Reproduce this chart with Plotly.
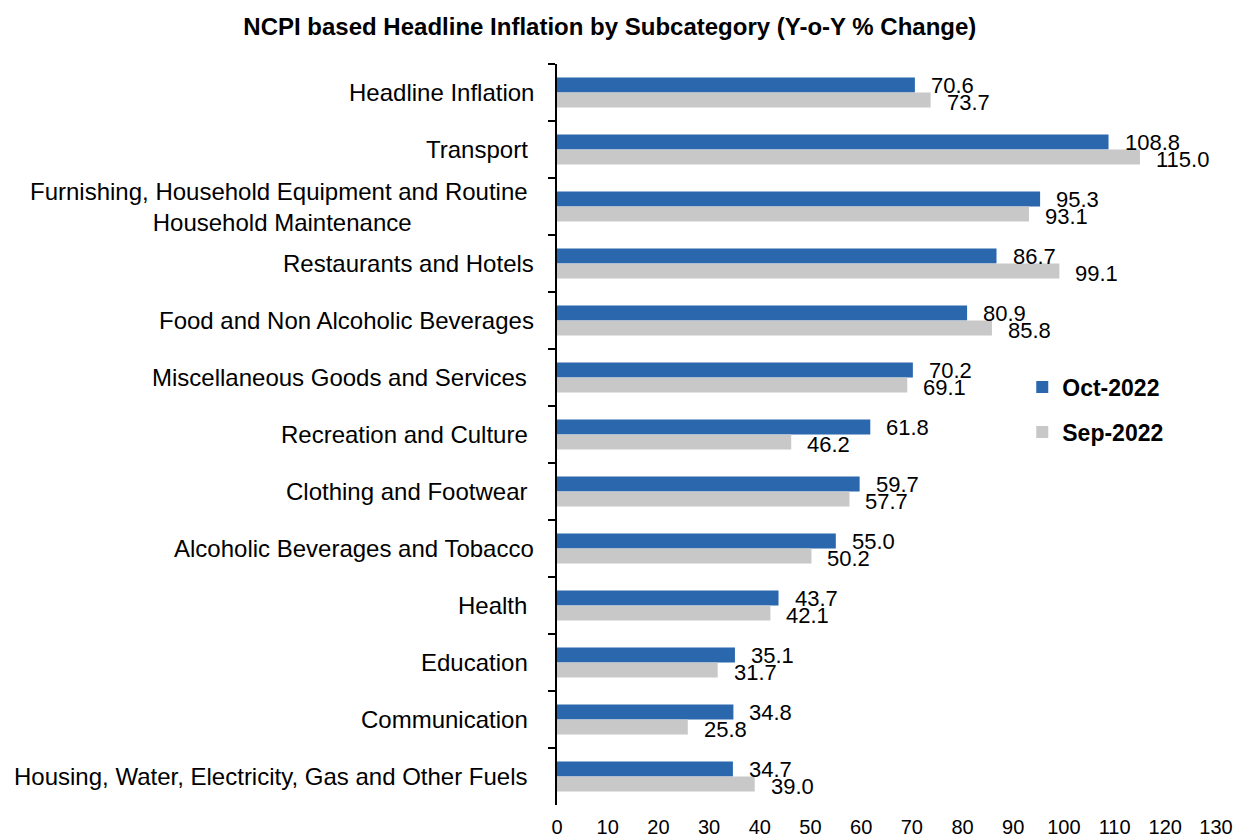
import plotly.graph_objects as go

categories = [
    "Headline Inflation",
    "Transport\u00a0",
    "Furnishing, Household Equipment and Routine\u00a0<br>Household Maintenance",
    "Restaurants and Hotels",
    "Food and Non Alcoholic Beverages",
    "Miscellaneous Goods and Services\u00a0",
    "Recreation and Culture\u00a0",
    "Clothing and Footwear\u00a0",
    "Alcoholic Beverages and Tobacco",
    "Health\u00a0",
    "Education\u00a0",
    "Communication\u00a0",
    "Housing, Water, Electricity, Gas and Other Fuels\u00a0",
]
oct_2022 = [70.6, 108.8, 95.3, 86.7, 80.9, 70.2, 61.8, 59.7, 55.0, 43.7, 35.1, 34.8, 34.7]
sep_2022 = [73.7, 115.0, 93.1, 99.1, 85.8, 69.1, 46.2, 57.7, 50.2, 42.1, 31.7, 25.8, 39.0]
x_ticks = list(range(0, 131, 10))

FONT = "Liberation Sans, Arial, sans-serif"
BLUE = "#2A67AD"
GRAY = "#C8C8C8"

fig = go.Figure()
fig.add_trace(go.Bar(y=categories, x=oct_2022, orientation="h", name="Oct-2022",
                     marker=dict(color=BLUE, line=dict(width=0)), legendgroup="a"))
fig.add_trace(go.Bar(y=categories, x=sep_2022, orientation="h", name="Sep-2022",
                     marker=dict(color=GRAY, line=dict(width=0)), legendgroup="b"))

annotations = []
for c, v in zip(categories, oct_2022):
    annotations.append(dict(x=v, y=c, xref="x", yref="y", text=f"{v:.1f}", showarrow=False,
                            xanchor="left", yanchor="middle", xshift=14, yshift=7,
                            font=dict(family=FONT, size=22, color="black")))
for c, v in zip(categories, sep_2022):
    annotations.append(dict(x=v, y=c, xref="x", yref="y", text=f"{v:.1f}", showarrow=False,
                            xanchor="left", yanchor="middle", xshift=14, yshift=-10,
                            font=dict(family=FONT, size=22, color="black")))
for c in categories:
    annotations.append(dict(x=0, y=c, xref="paper", yref="y", text=c, showarrow=False,
                            xanchor="right", yanchor="middle", xshift=-21, align="center",
                            font=dict(family=FONT, size=24, color="black")))

fig.update_layout(
    width=1237, height=840,
    margin=dict(l=557, r=21, t=64, b=35, autoexpand=False),
    paper_bgcolor="white", plot_bgcolor="white",
    barmode="group", bargap=0.47, bargroupgap=0,
    title=dict(text="<b>NCPI based Headline Inflation by Subcategory (Y-o-Y % Change)</b>",
               x=0.493, xref="container", xanchor="center", y=0.968, yref="container",
               yanchor="middle", font=dict(family=FONT, size=24, color="black")),
    font=dict(family=FONT, color="black"),
    legend=dict(x=0.706, y=0.593, xanchor="left", yanchor="top", bgcolor="rgba(0,0,0,0)",
                font=dict(family=FONT, size=23, color="black", weight="bold"),
                traceorder="grouped", tracegroupgap=12, itemwidth=30),
    annotations=annotations,
)
fig.update_xaxes(range=[0, 130], tickvals=x_ticks, showgrid=False, zeroline=False,
                 showline=False, ticks="", tickfont=dict(family=FONT, size=20, color="black"),
                 ticklabelstandoff=8, automargin=False)
fig.update_yaxes(autorange="reversed", type="category", showticklabels=False,
                 showline=True, linecolor="black", linewidth=1.5, ticks="outside",
                 tickson="boundaries", ticklen=7, tickcolor="black", tickwidth=1.5,
                 showgrid=False, zeroline=False, automargin=False)

fig.write_html("out.html", config={"displayModeBar": False},
               post_script="document.body.style.margin='0';document.body.style.overflow='hidden';")
